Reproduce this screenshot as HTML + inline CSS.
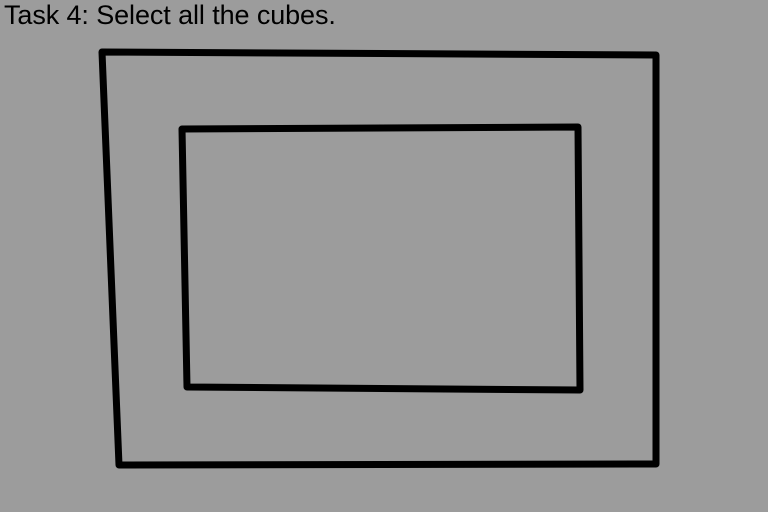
<!DOCTYPE html>
<html><head><meta charset="utf-8"><style>
html,body{margin:0;padding:0;width:768px;height:512px;overflow:hidden;background:#9c9c9c;}
#title{position:absolute;left:4px;top:0px;font-family:"Liberation Sans",sans-serif;font-size:27px;color:#000;letter-spacing:-0.1px;}
svg{position:absolute;left:0;top:0;}
</style></head><body>
<div id="title">Task 4: Select all the cubes.</div>
<svg width="768" height="512">
<polygon points="102,52 656,55 656,464 119,465" fill="none" stroke="#000" stroke-width="7" stroke-linejoin="round"/>
<polygon points="182,129 578,127 580,390 187,387" fill="none" stroke="#000" stroke-width="7" stroke-linejoin="round"/>
</svg>
</body></html>
